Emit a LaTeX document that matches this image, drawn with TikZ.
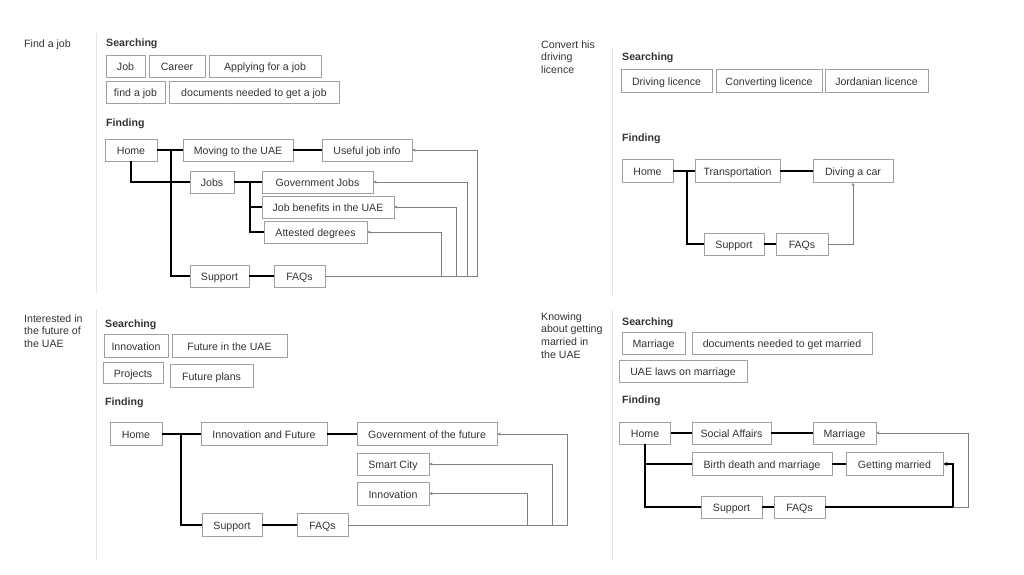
\documentclass[tikz,border=0pt]{standalone}
\usepackage{fontspec}
\setmainfont{Liberation Sans}
\usetikzlibrary{arrows.meta}
\definecolor{ink}{HTML}{333333}
\definecolor{boxline}{HTML}{A0A0A0}
\definecolor{backline}{HTML}{808080}
\definecolor{divline}{HTML}{E4E4E4}
\newcommand{\txtsize}{\fontsize{10.6}{12.7}\selectfont}

\begin{document}
\begin{tikzpicture}[
    x=1pt, y=-1pt,
    font=\txtsize, text=ink,
    item/.style={draw=boxline, minimum height=22, inner sep=0, line width=0.9pt,
      text height=9, text depth=0},
    w/.style={minimum width=#1},
    heading/.style={anchor=base west, inner sep=0, font=\txtsize\bfseries},
    note/.style={anchor=north west, inner sep=0, align=left},
    divider/.style={draw=divline, line width=0.9pt},
    link/.style={line width=1.6pt, >={Stealth[length=4pt,width=4pt]}},
    back/.style={draw=backline, line width=0.8pt, ->, >={Stealth[length=3pt,width=3pt]}}
  ]
  \useasboundingbox (0,0) rectangle (1024,574);

  % find a job
  \draw[divider] (96,33) -- (96,293);
  \node[anchor=base west, inner sep=0] (goal1) at (24,47) {Find a job};
  \node[heading] (search1) at (106,46) {Searching};
  \node[item, w=39] (job1) at (125.5,66) {Job};
  \node[item, w=56] (career1) at (177,66) {Career};
  \node[item, w=112] (apply1) at (265,66) {Applying for a job};
  \node[item, w=59] (find1) at (135.5,92) {find a job};
  \node[item, w=170] (docs1) at (254,92) {documents needed to get a job};
  \node[heading] (finding1) at (106,126) {Finding};
  \node[item, w=52] (home1) at (131,150) {Home};
  \node[item, w=110] (move1) at (238,150) {Moving to the UAE};
  \node[item, w=90] (info1) at (367,150) {Useful job info};
  \node[item, w=44] (jobs1) at (212,182) {Jobs};
  \node[item, w=111] (gov1) at (317.5,182) {Government Jobs};
  \node[item, w=132] (perks1) at (328,207) {Job benefits in the UAE};
  \node[item, w=103] (degree1) at (315.5,232) {Attested degrees};
  \node[item, w=59] (support1) at (219.5,276) {Support};
  \node[item, w=51] (faq1) at (299.5,276) {FAQs};
  \coordinate (fork1) at (171,150);
  \coordinate (fork2) at (250,182);
  \draw[link] (home1) -- (move1);
  \draw[link] (move1) -- (info1);
  \draw[link] (fork1) |- (support1);
  \draw[link] (home1) |- (jobs1);
  \draw[link] (jobs1) -- (gov1);
  \draw[link] (fork2) |- (perks1);
  \draw[link] (fork2) |- (degree1);
  \draw[link] (support1) -- (faq1);
  \coordinate (loop1) at (477,276);
  \coordinate (loop2) at (467,276);
  \coordinate (loop3) at (456,276);
  \coordinate (loop4) at (441,276);
  \draw[back] (faq1) -- (loop1) |- (info1);
  \draw[back] (loop2) |- (gov1);
  \draw[back] (loop3) |- (perks1);
  \draw[back] (loop4) |- (degree1);

  % driving licence
  \draw[divider] (612,48) -- (612,295);
  \node[note] (goal2) at (541,40.3) {Convert his\\driving\\licence};
  \node[heading] (search2) at (622,60) {Searching};
  \node[item, w=91, minimum height=23] (drive2) at (666.5,80.5) {Driving licence};
  \node[item, w=106, minimum height=23] (convert2) at (769,80.5) {Converting licence};
  \node[item, w=103, minimum height=23] (jordan2) at (876.5,80.5) {Jordanian licence};
  \node[heading] (finding2) at (622,141) {Finding};
  \node[item, w=51, minimum height=23] (home2) at (647.5,171) {Home};
  \node[item, w=85, minimum height=23] (transport2) at (737.5,171) {Transportation};
  \node[item, w=80, minimum height=23] (car2) at (853,171) {Diving a car};
  \node[item, w=60] (support2) at (734,244) {Support};
  \node[item, w=52] (faq2) at (802,244) {FAQs};
  \coordinate (fork3) at (687,171);
  \draw[link] (home2) -- (transport2);
  \draw[link] (transport2) -- (car2);
  \draw[link] (fork3) |- (support2);
  \draw[link] (support2) -- (faq2);
  \draw[back] (faq2) -| (car2);

  % future of the UAE
  \draw[divider] (96,310) -- (96,560);
  \node[note] (goal3) at (24,314.3) {Interested in\\the future of\\the UAE};
  \node[heading] (search3) at (105,327) {Searching};
  \node[item, w=64, minimum height=23] (innov3) at (136,345.5) {Innovation};
  \node[item, w=115, minimum height=23] (future3) at (229.5,345.5) {Future in the UAE};
  \node[item, w=60, minimum height=21] (project3) at (133,372.5) {Projects};
  \node[item, w=83, minimum height=23] (plans3) at (211.5,375.5) {Future plans};
  \node[heading] (finding3) at (105,405) {Finding};
  \node[item, w=52, minimum height=23] (home3) at (136,434) {Home};
  \node[item, w=126, minimum height=23] (infut3) at (264,434) {Innovation and Future};
  \node[item, w=140, minimum height=23] (govfut3) at (427,434) {Government of the future};
  \node[item, w=72] (smart3) at (393,464) {Smart City};
  \node[item, w=72, minimum height=23] (innopage3) at (393,493.5) {Innovation};
  \node[item, w=60, minimum height=23] (support3) at (232,525) {Support};
  \node[item, w=51, minimum height=23] (faq3) at (322.5,525) {FAQs};
  \coordinate (fork4) at (181,434);
  \draw[link] (home3) -- (infut3);
  \draw[link] (infut3) -- (govfut3);
  \draw[link] (fork4) |- (support3);
  \draw[link] (support3) -- (faq3);
  \coordinate (loop5) at (567,525);
  \coordinate (loop6) at (552,525);
  \coordinate (loop7) at (527,525);
  \draw[back] (faq3) -- (loop5) |- (govfut3);
  \draw[back] (loop6) |- (smart3);
  \draw[back] (loop7) |- (innopage3);

  % getting married
  \draw[divider] (612,310) -- (612,560);
  \node[note] (goal4) at (541,312.4) {Knowing\\about getting\\married in\\the UAE};
  \node[heading] (search4) at (622,325) {Searching};
  \node[item, w=63] (marry4) at (653.5,343) {Marriage};
  \node[item, w=180] (docs4) at (782,343) {documents needed to get married};
  \node[item, w=128] (laws4) at (683,371) {UAE laws on marriage};
  \node[heading] (finding4) at (622,403) {Finding};
  \node[item, w=51] (home4) at (645,433) {Home};
  \node[item, w=79] (social4) at (731.5,433) {Social Affairs};
  \node[item, w=63] (wed4) at (844.5,433) {Marriage};
  \node[item, w=140, minimum height=23] (birth4) at (762,464) {Birth death and marriage};
  \node[item, w=97, minimum height=23] (married4) at (894.5,464) {Getting married};
  \node[item, w=61] (support4) at (731.5,507) {Support};
  \node[item, w=51] (faq4) at (799.5,507) {FAQs};
  \draw[link] (home4) -- (social4);
  \draw[link] (social4) -- (wed4);
  \draw[link] (home4) |- (birth4);
  \draw[link] (home4) |- (support4);
  \draw[link] (birth4) -- (married4);
  \draw[link] (support4) -- (faq4);
  \coordinate (loop8) at (953,507);
  \coordinate (loop9) at (968,507);
  \draw[link, ->] (faq4) -- (loop8) |- (married4);
  \draw[back] (loop8) -- (loop9) |- (wed4);
\end{tikzpicture}
\end{document}
